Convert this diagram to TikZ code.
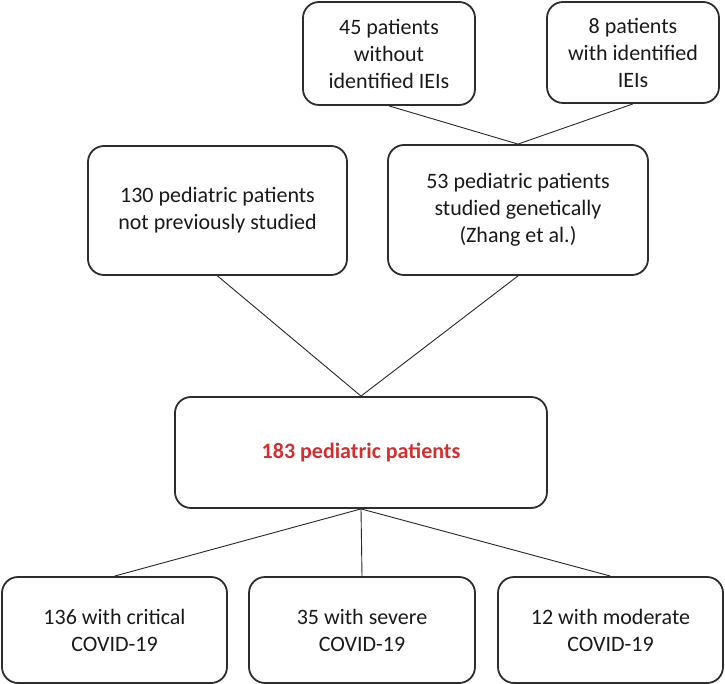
\documentclass[tikz,border=0pt]{standalone}
\usepackage{fontspec}
\setmainfont{Carlito}
\usetikzlibrary{positioning}

\definecolor{boxline}{RGB}{45,45,45}
\definecolor{totalred}{RGB}{211,47,47}

\begin{document}
\begin{tikzpicture}[
    x=1pt, y=-1pt, % work in pixel-like units, y grows downwards
    box/.style={draw=boxline, line width=1.8pt, rounded corners=16pt,
        align=center, font=\fontsize{22}{27}\selectfont, text=black!90,
        inner sep=0pt}, % rounded box for every group
    link/.style={draw=black!85, line width=0.9pt} % thin connector
]

    % --- Frame ---
    \useasboundingbox (0,0) rectangle (725,684);

    % --- Top row: result of the genetic study ---
    \node[box, minimum width=172pt, minimum height=103pt] (noiei) at (389,53.5)
        {45 patients\\without\\identified IEIs};
    \node[box, minimum width=172pt, minimum height=101pt] (withiei) at (633,52.5)
        {8 patients\\with identified\\IEIs};

    % --- Middle row: the two cohorts ---
    \node[box, minimum width=259pt, minimum height=129pt] (newpat) at (217.5,210.5)
        {130 pediatric patients\\not previously studied};
    \node[box, minimum width=260pt, minimum height=130pt] (zhang) at (518,210)
        {53 pediatric patients\\studied genetically\\(Zhang et al.)};

    % --- Whole group ---
    \node[box, minimum width=372pt, minimum height=111pt, text=totalred,
        font=\fontsize{22}{27}\selectfont\bfseries] (total) at (361,452.5)
        {183 pediatric patients};

    % --- Bottom row: severity ---
    \node[box, minimum width=225pt, minimum height=106pt] (critical) at (114.5,630)
        {136 with critical\\COVID-19};
    \node[box, minimum width=226pt, minimum height=106pt] (severe) at (362,630)
        {35 with severe\\COVID-19};
    \node[box, minimum width=225pt, minimum height=106pt] (moderate) at (610.5,630)
        {12 with moderate\\COVID-19};

    % --- Connectors ---
    \draw[link] (noiei.south) -- (zhang.north);
    \draw[link] (withiei.south) -- (zhang.north);
    \draw[link] (newpat.south) -- (total.north);
    \draw[link] (zhang.south) -- (total.north);
    \foreach \sub in {critical, severe, moderate}
        \draw[link] (total.south) -- (\sub.north);

\end{tikzpicture}
\end{document}
